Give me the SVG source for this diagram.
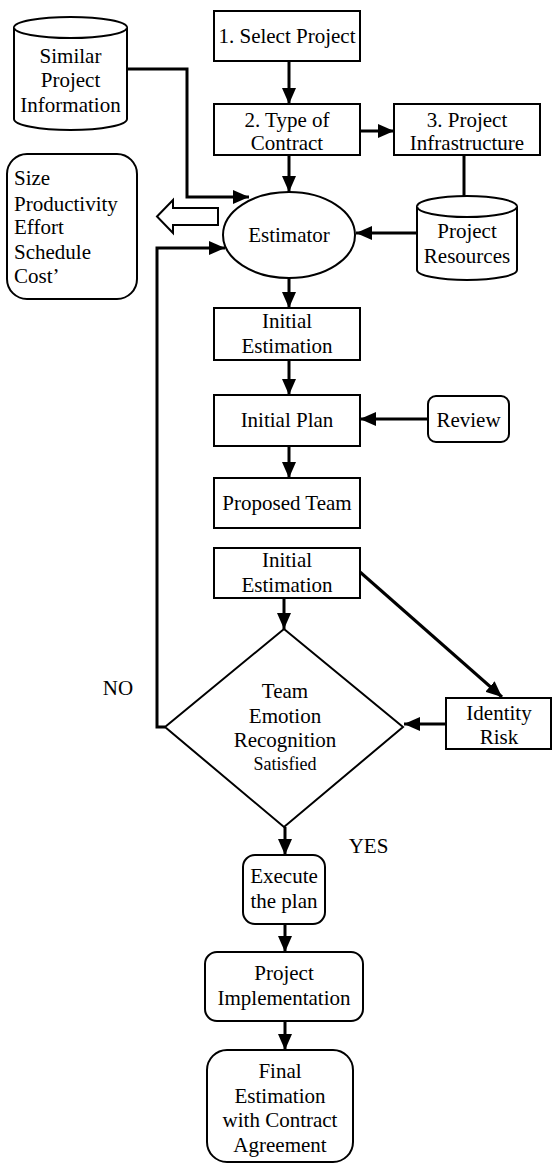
<svg xmlns="http://www.w3.org/2000/svg" width="552" height="1165" viewBox="0 0 552 1165">
<defs>
<style>
.n{fill:#fff;stroke:#000;stroke-width:2}
.t{font-family:'Liberation Serif','Times New Roman',Tinos,serif;font-size:21px;fill:#000;text-anchor:middle}
.l{text-anchor:start}
.s{font-size:18px}
.c{fill:none;stroke:#000;stroke-width:3}
.a{marker-end:url(#ah)}
</style>
<marker id="ah" markerUnits="userSpaceOnUse" markerWidth="17" markerHeight="14" refX="16" refY="7" orient="auto">
<path d="M0,0 L16,7 L0,14 z" fill="#000"/>
</marker>
</defs>
<rect width="552" height="1165" fill="#fff"/>
<g id="connectors">
<path class="c a" d="M289 61 V104"/>
<path class="c a" d="M360 131 H394"/>
<path class="c" d="M464 155 V196"/>
<path class="c a" d="M289 155 V192"/>
<path class="c a" d="M127 69 H187 V197 H249"/>
<path class="c a" d="M417 233 H356"/>
<path class="c a" d="M289 278 V308"/>
<path class="c a" d="M289 360 V395"/>
<path class="c a" d="M428 419 H360"/>
<path class="c a" d="M289 446 V478"/>
<path class="c a" d="M284 598 V629"/>
<path class="c a" d="M360 572 L502 697"/>
<path class="c a" d="M446 724 H404"/>
<path class="c a" d="M285 827 V855"/>
<path class="c a" d="M285 924 V952"/>
<path class="c a" d="M285 1021 V1050"/>
<path class="c a" d="M165 727 H157 V248 H225"/>
<polygon class="n" points="157,216.5 173,200 173,208 218,208 218,225 173,225 173,233"/>
</g>
<g id="similar" font-family="Liberation Serif, serif">
<path class="n" d="M14 27.5 A56.5 10.5 0 0 1 127 27.5 V119 A56.5 11 0 0 1 14 119 Z"/>
<path class="n" fill="none" d="M14 27.5 A56.5 10.5 0 0 0 127 27.5"/>
<text class="t" x="70.5" y="63">Similar</text>
<text class="t" x="70.5" y="87">Project</text>
<text class="t" x="70.5" y="112">Information</text>
</g>
<g id="outputs">
<rect class="n" x="7" y="154" width="130" height="145" rx="20"/>
<text class="t l" x="14" y="185">Size</text>
<text class="t l" x="14" y="211">Productivity</text>
<text class="t l" x="14" y="234">Effort</text>
<text class="t l" x="14" y="259">Schedule</text>
<text class="t l" x="14" y="283">Cost’</text>
</g>
<g id="select">
<rect class="n" x="214" y="11" width="146" height="50"/>
<text class="t" x="287" y="43">1. Select Project</text>
</g>
<g id="contract">
<rect class="n" x="214" y="104" width="146" height="51"/>
<text class="t" x="287" y="127">2. Type of</text>
<text class="t" x="287" y="150">Contract</text>
</g>
<g id="infra">
<rect class="n" x="394" y="104" width="146" height="51"/>
<text class="t" x="467" y="127">3. Project</text>
<text class="t" x="467" y="150">Infrastructure</text>
</g>
<g id="estimator">
<ellipse class="n" cx="289" cy="235" rx="66" ry="43"/>
<text class="t" x="289" y="242">Estimator</text>
</g>
<g id="resources">
<path class="n" d="M417 206.5 A50 10.5 0 0 1 517 206.5 V270 A50 10 0 0 1 417 270 Z"/>
<path class="n" fill="none" d="M417 206.5 A50 10.5 0 0 0 517 206.5"/>
<text class="t" x="467" y="238">Project</text>
<text class="t" x="467" y="263">Resources</text>
</g>
<g id="initest">
<rect class="n" x="214" y="308" width="146" height="52"/>
<text class="t" x="287" y="328">Initial</text>
<text class="t" x="287" y="353">Estimation</text>
</g>
<g id="initplan">
<rect class="n" x="214" y="395" width="146" height="51"/>
<text class="t" x="287" y="427">Initial Plan</text>
</g>
<g id="review">
<rect class="n" x="428" y="396" width="81" height="46" rx="8"/>
<text class="t" x="468.5" y="427">Review</text>
</g>
<g id="team">
<rect class="n" x="214" y="478" width="146" height="50"/>
<text class="t" x="287" y="510">Proposed Team</text>
</g>
<g id="initest2">
<rect class="n" x="214" y="548" width="146" height="50"/>
<text class="t" x="287" y="567">Initial</text>
<text class="t" x="287" y="592">Estimation</text>
</g>
<g id="decision">
<polygon class="n" points="284,629 403,727 284,827 165,727"/>
<text class="t" x="285" y="698">Team</text>
<text class="t" x="285" y="723">Emotion</text>
<text class="t" x="285" y="747">Recognition</text>
<text class="t s" x="285" y="770">Satisfied</text>
</g>
<g id="risk">
<rect class="n" x="446" y="698" width="105" height="51"/>
<text class="t" x="499" y="720">Identity</text>
<text class="t" x="499" y="744">Risk</text>
</g>
<g id="labels">
<text class="t" x="118" y="695">NO</text>
<text class="t" x="368.5" y="853">YES</text>
</g>
<g id="execute">
<rect class="n" x="243" y="855" width="82" height="69" rx="12"/>
<text class="t" x="284" y="883">Execute</text>
<text class="t" x="284" y="908">the plan</text>
</g>
<g id="implementation">
<rect class="n" x="205" y="952" width="158" height="69" rx="12"/>
<text class="t" x="284" y="980">Project</text>
<text class="t" x="284" y="1005">Implementation</text>
</g>
<g id="final">
<rect class="n" x="207" y="1050" width="146" height="112" rx="20"/>
<text class="t" x="280" y="1078">Final</text>
<text class="t" x="280" y="1103">Estimation</text>
<text class="t" x="280" y="1127">with Contract</text>
<text class="t" x="280" y="1152">Agreement</text>
</g>
</svg>
